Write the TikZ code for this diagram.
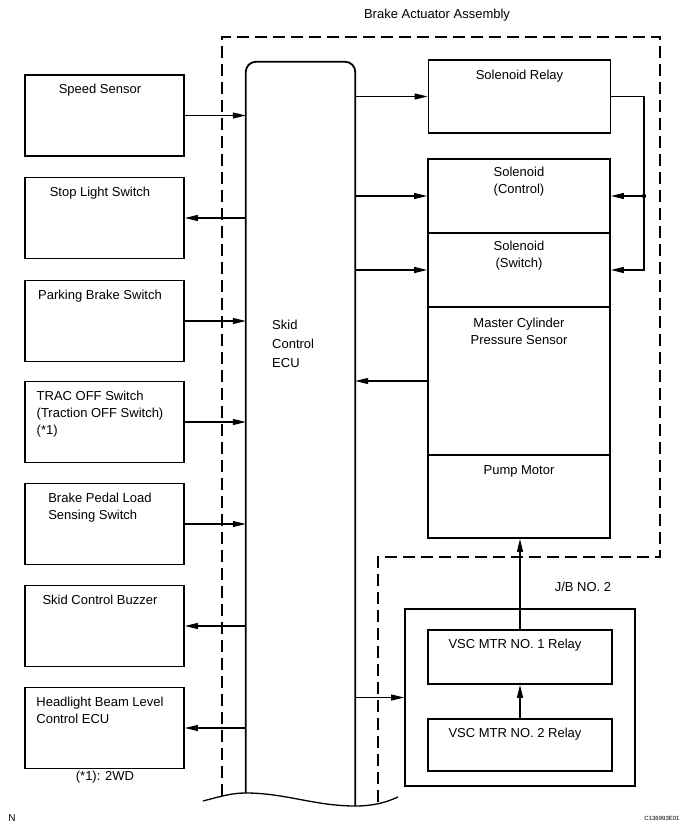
\documentclass[tikz,border=0pt]{standalone}
\usepackage{fontspec}
\setmainfont{Liberation Sans}
\usetikzlibrary{arrows.meta}
\usetikzlibrary{positioning}
\usetikzlibrary{calc}

\begin{document}
\begin{tikzpicture}[x=1pt, y=-1pt,
	blk/.style={draw, line width=1.8pt, minimum width=159pt, minimum height=81pt, inner sep=0pt},
	lbl/.style={inner sep=0pt, font=\fontsize{13}{17}\selectfont, align=left},
	arr/.style={line width=1.1pt, -{Triangle[length=13pt,width=6pt]}},
	dashbox/.style={line width=1.3pt, dash pattern=on 12pt off 6pt}]

\useasboundingbox (0,0) rectangle (693,830);

% left column
\node[blk] (speed) at (104.5,115.5) {};
\node[blk] (stop) at (104.5,218) {};
\node[blk] (park) at (104.5,321) {};
\node[blk] (trac) at (104.5,422) {};
\node[blk] (pedal) at (104.5,524) {};
\node[blk] (buzz) at (104.5,626) {};
\node[blk] (head) at (104.5,728) {};

\node[lbl, below=10pt of speed.north, xshift=-4.5pt] (speedtxt) {Speed Sensor};
\node[lbl, below=10pt of stop.north, xshift=-4.5pt] (stoptxt) {Stop Light Switch};
\node[lbl, below=10pt of park.north, xshift=-4.5pt] (parktxt) {Parking Brake Switch};
\node[lbl, below=10pt of trac.north, xshift=-4.5pt] (tractxt) {TRAC OFF Switch\\(Traction OFF Switch)\\(*1)};
\node[lbl, below=10pt of pedal.north, xshift=-4.5pt] (pedaltxt) {Brake Pedal Load\\Sensing Switch};
\node[lbl, below=10pt of buzz.north, xshift=-4.5pt] (buzztxt) {Skid Control Buzzer};
\node[lbl, below=10pt of head.north, xshift=-4.5pt] (headtxt) {Headlight Beam Level\\Control ECU};

% ECU
\node[minimum width=109pt, minimum height=744pt, inner sep=0pt] (ecu) at (300.5,434) {};
\draw[line width=1.8pt, rounded corners=10pt] ($(ecu.south west)+(0,-13)$) -- (ecu.north west) -- (ecu.north east) -- (ecu.south east);
\node[lbl, font=\fontsize{13}{19}\selectfont, anchor=west] (ecutxt) at (272,344) {Skid\\Control\\ECU};
\draw[line width=1.3pt] (203,801) .. controls (222,796) and (232,793) .. (246,793)
	.. controls (285,793) and (315,806) .. (355,806) .. controls (372,806) and (385,803) .. (398,797);

% brake actuator
\draw[dashbox] (222,796) -- (222,37) -- (660,37) -- (660,557) -- (378,557) -- (378,803.5);
\node[lbl] (acttxt) at (437,15) {Brake Actuator Assembly};

\node[blk, minimum width=182pt, minimum height=73pt] (relay) at (519.5,96.5) {};
\node[blk, minimum width=182pt, minimum height=74pt] (solctl) at (519,196) {};
\node[blk, minimum width=182pt, minimum height=74pt] (solsw) at (519,270) {};
\node[blk, minimum width=182pt, minimum height=148pt] (master) at (519,381) {};
\node[blk, minimum width=182pt, minimum height=83pt] (pump) at (519,496.5) {};

\node[lbl, below=11pt of relay.north] (relaytxt) {Solenoid Relay};
\node[lbl, below=9pt of solctl.north, align=center] (solctltxt) {Solenoid\\(Control)};
\node[lbl, below=9pt of solsw.north, align=center] (solswtxt) {Solenoid\\(Switch)};
\node[lbl, below=12pt of master.north, align=center] (mastertxt) {Master Cylinder\\Pressure Sensor};
\node[lbl, below=11pt of pump.north] (pumptxt) {Pump Motor};

% J/B
\node[lbl] (jbtxt) at (583,587) {J/B NO. 2};
\node[blk, minimum width=230pt, minimum height=177pt] (jb) at (520,697.5) {};
\node[blk, minimum width=184pt, minimum height=54pt] (mtra) at (520,657) {};
\node[blk, minimum width=184pt, minimum height=52pt] (mtrb) at (520,745) {};
\node[lbl, below=10pt of mtra.north, xshift=-5pt] (mtratxt) {VSC MTR NO. 1 Relay};
\node[lbl, below=10pt of mtrb.north, xshift=-5pt] (mtrbtxt) {VSC MTR NO. 2 Relay};

% connections
\draw[arr] (speed.east) -- (speed.east -| ecu.west);
\draw[arr] (stop.east -| ecu.west) -- (stop.east);
\draw[arr] (park.east) -- (park.east -| ecu.west);
\draw[arr] (trac.east) -- (trac.east -| ecu.west);
\draw[arr] (pedal.east) -- (pedal.east -| ecu.west);
\draw[arr] (buzz.east -| ecu.west) -- (buzz.east);
\draw[arr] (head.east -| ecu.west) -- (head.east);

\draw[arr] (relay.west -| ecu.east) -- (relay.west);
\draw[arr] (solctl.west -| ecu.east) -- (solctl.west);
\draw[arr] (solsw.west -| ecu.east) -- (solsw.west);
\draw[arr] (master.west) -- (master.west -| ecu.east);
\draw[arr] (jb.west -| ecu.east) -- (jb.west);

\coordinate (jct) at (644,196);
\draw[arr] (relay.east) -| (jct) |- (solsw.east);
\draw[arr] (jct) -- (solctl.east);
\fill (jct) circle (2.2pt);

\draw[arr] (mtra.north) -- (mtra.north |- pump.south);
\draw[arr] (mtrb.north) -- (mtra.south);

\node[lbl] (notetxt) at (105,777) {(*1): 2WD};
\node[lbl, font=\fontsize{10}{12}\selectfont] (ntxt) at (12,818) {N};
\node[lbl, font=\fontsize{6}{7}\selectfont] (codetxt) at (662,818) {C136993E01};
\end{tikzpicture}
\end{document}
